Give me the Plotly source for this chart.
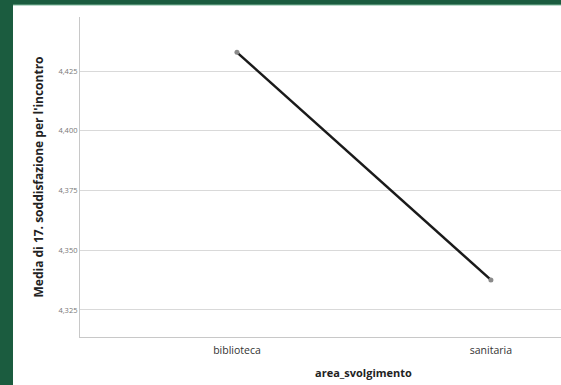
import plotly.graph_objects as go

categories = ["biblioteca", "sanitaria"]
means = [4.4328, 4.3376]
y_ticks = [4.325, 4.350, 4.375, 4.400, 4.425]

W, H = 561, 385
L, R, T, B = 80, 0, 17, 48
pw, ph = W - L - R, H - T - B

fig = go.Figure()
fig.add_trace(go.Scatter(
    x=categories, y=means, mode="lines+markers",
    line=dict(color="#1a1a1a", width=2.5),
    marker=dict(color="#8a8a8a", size=5),
    hoverinfo="skip", showlegend=False,
))

def px_x(p):
    return (p - L) / pw

def px_y(p):
    return (H - B - p) / ph

fig.add_shape(type="rect", xref="paper", yref="paper",
              x0=px_x(13), x1=px_x(W + 5), y0=px_y(H + 5), y1=px_y(5),
              fillcolor="white", line=dict(width=0), layer="below")
fig.add_shape(type="line", xref="paper", yref="paper",
              x0=px_x(13), x1=px_x(W + 5), y0=px_y(5), y1=px_y(5),
              line=dict(color="#7fb89c", width=1), layer="below")

fig.add_annotation(text="<b>area_svolgimento</b>", xref="paper", yref="paper",
                   x=px_x(363), y=px_y(372), xanchor="center", yanchor="middle",
                   showarrow=False, font=dict(size=11, color="#222"))

fig.update_layout(
    width=W, height=H,
    margin=dict(l=L, r=R, t=T, b=B),
    paper_bgcolor="#1b5c3f",
    plot_bgcolor="white",
    separators=",.",
    font=dict(family="Open Sans, DejaVu Sans, sans-serif", color="#222"),
    xaxis=dict(
        type="category", range=[-0.618, 1.276],
        showgrid=False, showline=True, linecolor="#c8c8c8", linewidth=1,
        ticks="", tickfont=dict(size=10.5, color="#333"), ticklabelstandoff=3,
        zeroline=False,
    ),
    yaxis=dict(
        range=[4.3137, 4.4476], tickvals=y_ticks, tickformat=".3f",
        showgrid=True, gridcolor="#d9d9d9", gridwidth=1,
        showline=True, linecolor="#c8c8c8", linewidth=1,
        ticks="", tickfont=dict(size=7.5, color="#777"),
        title=dict(text="<b>Media di 17. soddisfazione per l'incontro</b>",
                   font=dict(size=12, color="#222"), standoff=12),
        zeroline=False,
    ),
)

fig.write_html("out.html", config={"displayModeBar": False},
               post_script="document.body.style.margin='0';document.body.style.overflow='hidden';")
